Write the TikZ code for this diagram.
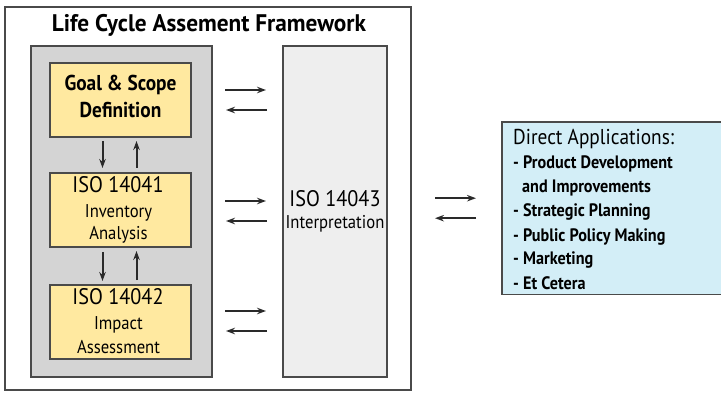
\documentclass[tikz,border=0pt]{standalone}
\usepackage{fontspec}
\setmainfont{PT Sans}
\newfontfamily\titlefont[FakeStretch=0.97]{PT Sans}
\newfontfamily\labfont[FakeStretch=0.9]{PT Sans}
\usetikzlibrary{arrows.meta,calc}
\definecolor{framegray}{HTML}{4A4A4A}
\definecolor{panelgray}{HTML}{D4D4D4}
\definecolor{interpgray}{HTML}{EEEEEE}
\definecolor{stageyellow}{HTML}{FFE9A0}
\definecolor{appblue}{HTML}{D3EEF7}
\definecolor{arrowgray}{HTML}{2A2A2A}
\tikzset{
  box/.style={draw=framegray, line width=1.3pt, inner sep=0pt, outer sep=0pt},
  stagebox/.style={box, fill=stageyellow, minimum width=141pt, minimum height=74pt},
  flow/.style={draw=arrowgray, line width=2pt, -{Stealth[length=9pt,width=6.5pt]}},
  txt/.style={inner sep=0pt, anchor=base, text=black},
  head/.style={txt, font=\labfont\fontsize{22.5}{24}\selectfont},
  sub/.style={txt, font=\labfont\fontsize{18.5}{20}\selectfont},
  item/.style={inner sep=0pt, anchor=base west, text=black, font=\labfont\fontsize{18}{20}\selectfont\bfseries}
}
\begin{document}
\begin{tikzpicture}[x=1pt,y=-1pt]
\useasboundingbox (0,0) rectangle (721,393);
% outer framework frame
\node[box, line width=1.6pt, minimum width=406pt, minimum height=383pt, anchor=north west] (frame) at (5,7) {};
\node[txt, font=\titlefont\fontsize{24}{26}\selectfont\bfseries] (title) at (209,32) {Life Cycle Assement Framework};
% grey panel holding the three stages
\node[box, fill=panelgray, minimum width=181pt, minimum height=331pt, anchor=north west] (panel) at (31,46) {};
% interpretation column
\node[box, fill=interpgray, minimum width=104pt, minimum height=331pt, anchor=north west] (interp) at (283,46) {};
% stages
\node[stagebox, anchor=north west] (goal) at (50,63) {};
\node[stagebox, anchor=north west] (inv) at (50,173) {};
\node[stagebox, anchor=north west] (imp) at (50,285) {};
\node[txt, font=\labfont\fontsize{21.5}{24}\selectfont\bfseries] (goal1) at (120.5,91) {Goal \& Scope};
\node[txt, font=\labfont\fontsize{21.5}{24}\selectfont\bfseries] (goal2) at (120.5,118) {Definition};
\node[head] (inv1) at (118,193) {ISO 14041};
\node[sub] (inv2) at (118.5,218) {Inventory};
\node[sub] (inv3) at (118.5,240) {Analysis};
\node[head] (imp1) at (118,305) {ISO 14042};
\node[sub] (imp2) at (118.5,329) {Impact};
\node[sub] (imp3) at (118.5,353) {Assessment};
\node[head] (int1) at (335,207) {ISO 14043};
\node[sub] (int2) at (335,229) {Interpretation};
% applications box, running off the right side
\node[fill=appblue, minimum width=222pt, minimum height=172pt, anchor=north west, inner sep=0pt] (app) at (502,122) {};
\draw[draw=framegray, line width=1.3pt] (app.north east) -- (app.north west) -- (app.south west) -- (app.south east);
\node[item, font=\labfont\fontsize{21.5}{24}\selectfont] (apphead) at (513,145) {Direct Applications:};
\node[item] (app1) at (513,169) {- Product Development};
\node[item] (app2) at (522,193) {and Improvements};
\node[item] (app3) at (513,217) {- Strategic Planning};
\node[item] (app4) at (513,241) {- Public Policy Making};
\node[item] (app5) at (513,265) {- Marketing};
\node[item] (app6) at (513,289) {- Et Cetera};
% vertical flows between stages
\draw[flow, shorten <=4pt, shorten >=5pt] ($(goal.south)+(-18,0)$) -- ($(inv.north)+(-18,0)$);
\draw[flow, shorten <=5pt, shorten >=4pt] ($(inv.north)+(16,0)$) -- ($(goal.south)+(16,0)$);
\draw[flow, shorten <=5pt, shorten >=4pt] ($(inv.south)+(-18,0)$) -- ($(imp.north)+(-18,0)$);
\draw[flow, shorten <=5pt, shorten >=4pt] ($(imp.north)+(16,0)$) -- ($(inv.south)+(16,0)$);
% horizontal flows between stages and interpretation
\foreach \s/\dy in {goal/0, inv/1, imp/-1}{
  \draw[flow, shorten <=13pt, shorten >=17pt] ($(\s.east -| panel.east)+(0,-10+\dy)$) -- ($(\s.east -| interp.west)+(0,-10+\dy)$);
  \draw[flow, shorten <=16pt, shorten >=14pt] ($(\s.east -| interp.west)+(0,10+\dy)$) -- ($(\s.east -| panel.east)+(0,10+\dy)$);
}
% flows between framework and applications
\draw[flow, shorten <=24pt, shorten >=26pt] ($(frame.east |- app.west)+(0,-10)$) -- ($(app.west)+(0,-10)$);
\draw[flow, shorten <=26pt, shorten >=24pt] ($(app.west)+(0,10)$) -- ($(frame.east |- app.west)+(0,10)$);
\end{tikzpicture}
\end{document}
